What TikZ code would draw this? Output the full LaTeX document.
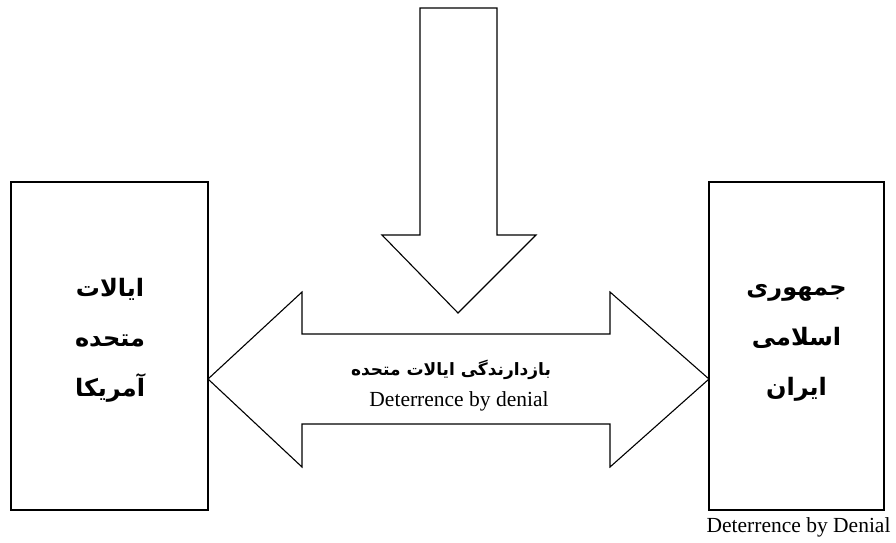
\documentclass[tikz,border=0pt]{standalone}
\usepackage{fontspec}
\setmainfont{Liberation Serif}
\newfontfamily\arabicfont[Script=Arabic]{DejaVu Sans}
\TeXXeTstate=1
\tikzset{
  box/.style={draw=black, line width=1.1pt, fill=white, inner sep=0pt},
  bigarrow/.style={draw=black, line width=1.1pt, fill=white, line join=miter},
  fa/.style={font=\arabicfont\bfseries\fontsize{24}{50}\selectfont, align=center},
  famid/.style={font=\arabicfont\bfseries\fontsize{17}{20}\selectfont},
  en/.style={font=\fontsize{21.5}{24}\selectfont}
}
\begin{document}
\begin{tikzpicture}[x=1pt,y=-1pt]
\useasboundingbox (0,0) rectangle (896,542);
% boxes
\node[box, minimum width=197pt, minimum height=328pt] (usa) at (109.5,346) {};
\node[box, minimum width=175pt, minimum height=328pt] (iran) at (796.5,346) {};
\node[fa] (usatext) at (110,340) {\beginR ایالات\endR\\ \beginR متحده\endR\\ \beginR آمریکا\endR};
\node[fa] (irantext) at (796.5,343) {\beginR جمهوری\endR\\ \beginR اسلامی\endR\\ \beginR ایران\endR};
% double arrow
\coordinate (lt) at (208,379);
\coordinate (rt) at (709,379);
\draw[bigarrow] (lt) -- (302,292) -- (302,334) -- (610,334) -- (610,292) -- (rt)
  -- (610,467) -- (610,424) -- (302,424) -- (302,467) -- cycle;
% down arrow
\draw[bigarrow] (420,8) -- (497,8) -- (497,235) -- (536,235) -- (458,313) -- (382,235) -- (420,235) -- cycle;
% middle labels
\node[famid] (midfa) at (451,370) {\beginR بازدارندگی ایالات متحده\endR};
\node[en] (miden) at (459,401) {Deterrence by denial};
% caption
\node[en, anchor=east] (cap) at (894,527) {Deterrence by Denial};
\end{tikzpicture}
\end{document}
